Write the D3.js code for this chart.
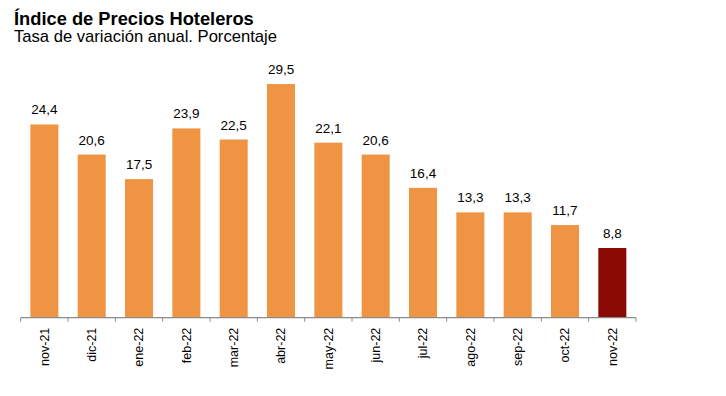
<!DOCTYPE html>
<html><head><meta charset="utf-8">
<script src="https://cdn.jsdelivr.net/npm/d3@7"></script>
<style>
html,body{margin:0;padding:0;background:#fff;}
svg{display:block;font-family:"Liberation Sans",Arial,Helvetica,sans-serif;}
</style></head>
<body><svg id="c" width="726" height="396"></svg>
<script>
const categories = ["nov-21","dic-21","ene-22","feb-22","mar-22","abr-22","may-22","jun-22","jul-22","ago-22","sep-22","oct-22","nov-22"];
const values = [24.4,20.6,17.5,23.9,22.5,29.5,22.1,20.6,16.4,13.3,13.3,11.7,8.8];
const highlight = ["nov-22"];
const title = "Índice de Precios Hoteleros";
const subtitle = "Tasa de variación anual. Porcentaje";

const svg = d3.select("#c");
const x = d3.scaleBand().domain(categories).range([20.7, 636.0]).paddingInner(0.408).paddingOuter(0.204);
const y = d3.scaleLinear().domain([0, 30]).range([317.7, 80.1]);

svg.append("text").attr("x",14).attr("y",25).attr("font-size","18.3px").attr("font-weight","bold").attr("fill","#000").text(title);
svg.append("text").attr("x",14).attr("y",42).attr("font-size","16.6px").attr("fill","#000").text(subtitle);

svg.append("g").selectAll("rect").data(categories).join("rect")
  .attr("x", d => x(d)).attr("width", x.bandwidth())
  .attr("y", (d,i) => y(values[i])).attr("height", (d,i) => y(0) - y(values[i]))
  .attr("fill", d => highlight.includes(d) ? "#8B0A03" : "#EF9443");

svg.append("g").selectAll("text").data(categories).join("text")
  .attr("x", d => x(d) + x.bandwidth()/2).attr("y", (d,i) => y(values[i]) - 10)
  .attr("text-anchor","middle").attr("font-size","13.5px").attr("fill","#000")
  .text((d,i) => d3.format(".1f")(values[i]).replace(".", ","));

// axis
const ax = svg.append("g");
const step = x.step();
const x0 = x.range()[0];
const ticks = d3.range(categories.length + 1).map(i => x0 + i*step);
ax.append("line").attr("x1", x0).attr("x2", ticks[ticks.length-1]).attr("y1", y(0)).attr("y2", y(0)).attr("stroke","#8a8a8a").attr("stroke-width",1.2);
ax.selectAll(".tk").data(ticks).join("line").attr("class","tk")
  .attr("x1", d=>d).attr("x2", d=>d).attr("y1", y(0)).attr("y2", y(0)+4).attr("stroke","#8a8a8a").attr("stroke-width",1);
ax.selectAll(".lb").data(categories).join("text").attr("class","lb")
  .attr("transform", d => `translate(${x(d)+x.bandwidth()/2},${y(0)+10}) rotate(-90)`)
  .attr("text-anchor","end").attr("dy","0.35em").attr("font-size","12.5px").attr("fill","#000")
  .text(d => d);
</script></body></html>
